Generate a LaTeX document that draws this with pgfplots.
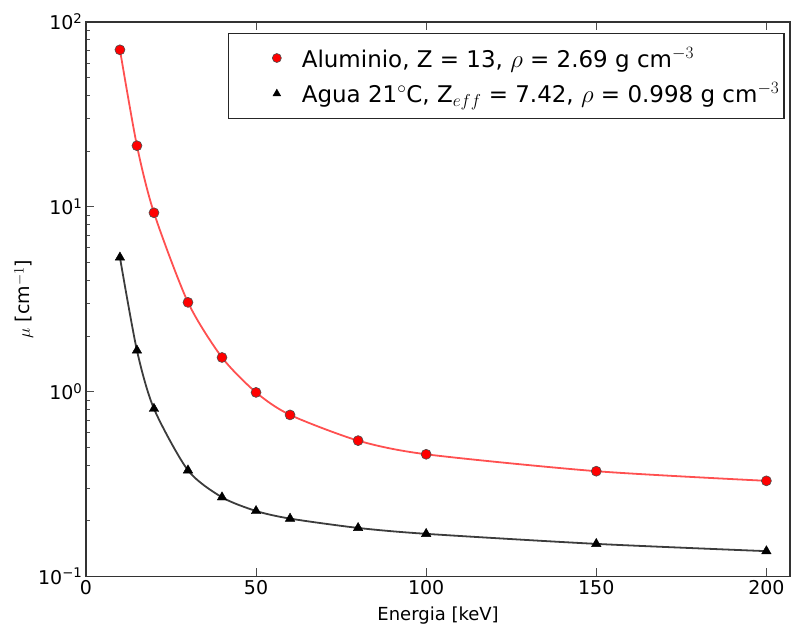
\documentclass[border=0pt]{standalone}
\usepackage{pgfplots}
\pgfplotsset{compat=1.18}
\usepackage{fontspec}
\setmainfont{DejaVu Sans}
\setsansfont{DejaVu Sans}
\definecolor{alred}{RGB}{255,80,80}
\definecolor{wgray}{RGB}{60,60,60}
\begin{document}
\begin{tikzpicture}
\begin{axis}[
  scale only axis, width=705pt, height=555pt,
  anchor=south west, at={(0pt,0pt)},
  xmin=0, xmax=207, ymode=log, ymin=0.1, ymax=100,
  xtick={0,50,100,150,200},
  ytick={0.1,1,10,100},
  yticklabels={10\textsuperscript{−1},10\textsuperscript{0},10\textsuperscript{1},10\textsuperscript{2}},
  /pgf/number format/assume math mode=true,
  tick align=inside,
  major tick length=8pt, minor tick length=4pt,
  tick style={line width=0.8pt, draw=black!70},
  axis line style={line width=1.6pt, draw=black!80},
  ytick pos=left, xtick pos=both,
  tick label style={font=\fontsize{19}{23}\selectfont},
  xlabel={Energia [keV]},
  ylabel={$\mu$ [cm$^{-1}$]},
  xlabel style={font=\fontsize{18}{22}\selectfont, yshift=-6pt},
  ylabel style={font=\fontsize{19}{23}\selectfont, yshift=-2pt},
  legend style={at={(rel axis cs:0.992,0.981)}, anchor=north east, draw=black!85, line width=1.4pt,
    font=\fontsize{23}{28}\selectfont, inner xsep=2.5pt, inner ysep=12pt, row sep=10pt},
  legend cell align=left,
  legend image code/.code={\path[draw=none,fill=none] (0pt,0pt) -- (69pt,0pt); \draw[#1,only marks,mark size=4.5pt] plot coordinates {(46pt,0pt)};},
]
\addplot[color=alred, line width=1.8pt, smooth, tension=0.45, mark=*, mark size=5pt,
  mark options={fill=red, draw=black!70, line width=0.6pt}]
  coordinates {(10,70.7) (15,21.4) (20,9.28) (30,3.04) (40,1.53) (50,0.99) (60,0.748) (80,0.543) (100,0.458) (150,0.371) (200,0.329)};
\addlegendentry{Aluminio, Z = 13, $\rho$ = 2.69 g cm$^{-3}$}
\addplot[color=wgray, line width=1.8pt, smooth, tension=0.45, mark=triangle*, mark size=5.5pt,
  mark options={fill=black, draw=black, line width=0.4pt}]
  coordinates {(10,5.32) (15,1.67) (20,0.808) (30,0.375) (40,0.268) (50,0.226) (60,0.2055) (80,0.183) (100,0.170) (150,0.150) (200,0.137)};
\addlegendentry{Agua 21$^\circ$C, Z$_{eff}$ = 7.42, $\rho$ = 0.998 g cm$^{-3}$}
\end{axis}
\path[use as bounding box] (-86pt,-52pt) rectangle (705pt,577pt);
\end{tikzpicture}
\end{document}
